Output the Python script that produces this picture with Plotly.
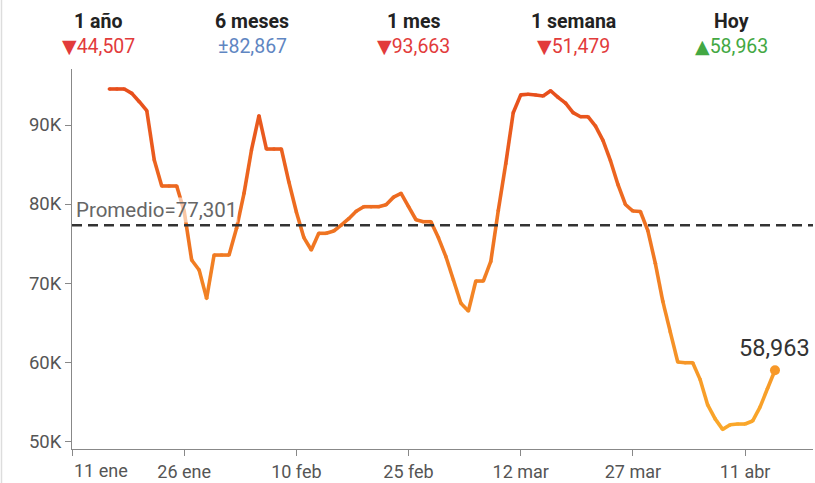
import plotly.graph_objects as go
import pandas as pd

# ---------------- DATA ----------------
start_date = "2025-01-16"
values = [
    94560, 94560, 94560, 94010, 92950, 91810, 85570, 82280, 82280, 82280,   # Jan 16-25
    79100, 72910, 71650, 68060, 73540, 73540, 73540, 76920, 81350, 86840,   # Jan 26-Feb 4
    91180, 86960, 86960, 86960, 82780, 78990, 75750, 74180, 76290, 76290,   # Feb 5-14
    76580, 77320, 78140, 79090, 79660, 79660, 79660, 79920, 80870, 81350,   # Feb 15-24
    79670, 78010, 77760, 77760, 75720, 73330, 70380, 67430, 66460, 70250,   # Feb 25-Mar 6
    70250, 72730, 79180, 85110, 91560, 93810, 93900, 93800, 93663, 94340,   # Mar 7-16
    93500, 92770, 91560, 91050, 91050, 89860, 88050, 85480, 82470, 79940,   # Mar 17-26
    79110, 79050, 76620, 72490, 67680, 63810, 60000, 59910, 59910, 57770,   # Mar 27-Apr 5
    54570, 52800, 51479, 52050, 52150, 52150, 52530, 54300, 56650, 58963,   # Apr 6-15
]
dates = list(pd.date_range(start_date, periods=len(values), freq="D"))
average = 77301

tick_dates = ["2025-01-11", "2025-01-26", "2025-02-10", "2025-02-25",
              "2025-03-12", "2025-03-27", "2025-04-11"]
tick_labels = ["11 ene", "26 ene", "10 feb", "25 feb", "12 mar", "27 mar", "11 abr"]
y_ticks = [50000, 60000, 70000, 80000, 90000]
y_tick_labels = ["50K", "60K", "70K", "80K", "90K"]

header_titles = ["1 año", "6 meses", "1 mes", "1 semana", "Hoy"]
header_marks = ["▼", "±", "▼", "▼", "▲"]
header_values = ["44,507", "82,867", "93,663", "51,479", "58,963"]
header_colors = ["#e23b3b", "#5f86c2", "#e23b3b", "#e23b3b", "#43a843"]

# ---------------- STYLE ----------------
FONT = "Roboto, 'Noto Sans', sans-serif"
HIGH = (231, 78, 28)
LOW = (250, 168, 42)
vmin, vmax = min(values), max(values)


def grad(v):
    t = (v - vmin) / (vmax - vmin)
    r, g, b = (round(LOW[i] + (HIGH[i] - LOW[i]) * t) for i in range(3))
    return f"rgb({r},{g},{b})"


fig = go.Figure()

# gradient line: one segment per pair of consecutive points
for i in range(len(values) - 1):
    fig.add_trace(go.Scatter(
        x=[dates[i], dates[i + 1]], y=[values[i], values[i + 1]],
        mode="lines", line=dict(color=grad((values[i] + values[i + 1]) / 2), width=3.6),
        hoverinfo="skip", showlegend=False))

# round joins
fig.add_trace(go.Scatter(
    x=dates, y=values, mode="markers",
    marker=dict(size=3.6, color=[grad(v) for v in values], line=dict(width=0)),
    hoverinfo="skip", showlegend=False))

# end point
fig.add_trace(go.Scatter(
    x=[dates[-1]], y=[values[-1]], mode="markers",
    marker=dict(size=10, color=grad(values[-1]), line=dict(width=0)),
    showlegend=False))

# average line
fig.add_shape(type="line", xref="paper", x0=0, x1=1, yref="y", y0=average, y1=average,
              line=dict(color="#333333", width=2.5, dash="10px,6px"), layer="above")

annotations = []
annotations.append(dict(
    x=0, xref="paper", y=average, yref="y", xanchor="left", yanchor="bottom",
    text=f"Promedio={average:,}", showarrow=False, xshift=3, yshift=2,
    font=dict(family=FONT, size=20.5, color="#666666"),
    bgcolor="rgba(255,255,255,0.6)", borderpad=0))

annotations.append(dict(
    x=dates[-1], y=values[-1], xref="x", yref="y", xanchor="center", yanchor="bottom",
    text=f"{values[-1]:,}", showarrow=False, yshift=6,
    font=dict(family=FONT, size=23.5, color="#333333")))

# first x tick label is flush-left at axis start
annotations.append(dict(
    x=tick_dates[0], xref="x", y=0, yref="paper", xanchor="left", yanchor="top",
    text=tick_labels[0], showarrow=False, xshift=0, yshift=-9,
    font=dict(family=FONT, size=18, color="#555555")))

plot_l, plot_w = 72, 741
header_px = [98, 252, 413, 573, 731]
for px, title, mark, val, col in zip(header_px, header_titles, header_marks,
                                     header_values, header_colors):
    xp = (px - plot_l) / plot_w
    annotations.append(dict(
        x=xp, xref="paper", y=1.126, yref="paper", xanchor="center", yanchor="middle",
        text=f"<b>{title}</b>", showarrow=False,
        font=dict(family=FONT, size=19.5, color="#222222")))
    mark_html = (mark if mark == "±" else
                 f"<span style='font-family:DejaVu Sans;font-size:19px'>{mark}</span>")
    annotations.append(dict(
        x=xp, xref="paper", y=1.06, yref="paper", xanchor="center", yanchor="middle",
        text=mark_html + val, showarrow=False,
        font=dict(family=FONT, size=19.5, color=col)))

# card border on the left
fig.add_shape(type="line", xref="paper", yref="paper",
              x0=(1.5 - plot_l) / plot_w, x1=(1.5 - plot_l) / plot_w, y0=-0.2, y1=1.3,
              line=dict(color="#dddddd", width=1.5))

fig.update_layout(
    width=815, height=483,
    margin=dict(l=72, r=2, t=69, b=34),
    paper_bgcolor="white", plot_bgcolor="white",
    font=dict(family=FONT, color="#555555"),
    annotations=annotations,
    xaxis=dict(
        type="date", range=["2025-01-11", "2025-04-20 02:00"],
        tickvals=tick_dates, ticktext=[""] + tick_labels[1:],
        ticks="outside", ticklen=6, tickcolor="#888888", tickwidth=1,
        showline=True, linecolor="#888888", linewidth=1,
        showgrid=False, zeroline=False, automargin=False,
        tickfont=dict(family=FONT, size=18, color="#555555")),
    yaxis=dict(
        range=[48990, 97090],
        tickvals=y_ticks, ticktext=y_tick_labels,
        ticks="outside", ticklen=6, tickcolor="#888888", tickwidth=1,
        showline=True, linecolor="#888888", linewidth=1,
        showgrid=False, zeroline=False, automargin=False,
        tickfont=dict(family=FONT, size=18.5, color="#555555")),
)

fig.write_html("out.html", config={"displayModeBar": False},
               post_script="document.body.style.margin='0';document.body.style.overflow='hidden';")
